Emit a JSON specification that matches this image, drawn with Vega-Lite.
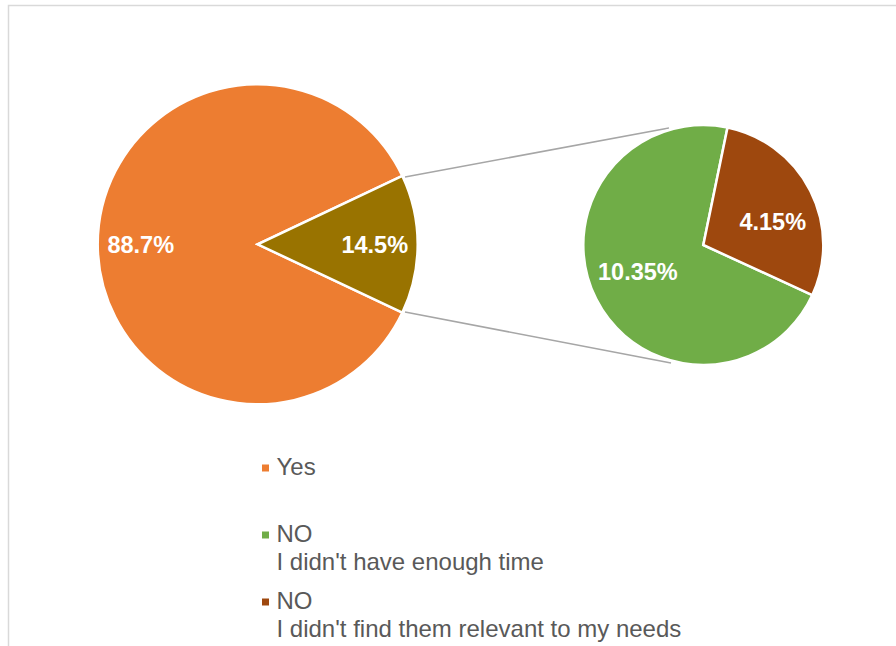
{
  "$schema": "https://vega.github.io/schema/vega-lite/v6.json",
  "width": 896,
  "height": 646,
  "autosize": {"type": "fit", "contains": "padding"},
  "padding": {"left": 8.5, "top": 5.5, "right": -3, "bottom": -3},
  "background": "white",
  "config": {
    "view": {"stroke": "#d9d9d9", "strokeWidth": 1.5},
    "style": {"guide-label": {"lineHeight": 28}}
  },
  "data": {
    "values": [
      {"pie": "main", "category": "Yes", "value": 88.7, "label": "88.7%"},
      {"pie": "main", "category": "NO", "value": 14.5, "label": "14.5%"},
      {"pie": "detail", "category": "NO\nI didn't have enough time", "value": 10.35, "label": "10.35%"},
      {"pie": "detail", "category": "NO\nI didn't find them relevant to my needs", "value": 4.15, "label": "4.15%"}
    ]
  },
  "resolve": {"scale": {"theta": "independent"}},
  "layer": [
    {
      "data": {"values": [{"connector": "upper"}]},
      "mark": {"type": "rule", "color": "#a6a6a6", "strokeWidth": 1.5},
      "encoding": {
        "x": {"datum": 405, "type": "quantitative", "scale": {"domain": [8.5, 899], "nice": false, "zero": false}, "axis": null},
        "y": {"datum": 177, "type": "quantitative", "scale": {"domain": [5.5, 649], "nice": false, "zero": false, "reverse": true}, "axis": null},
        "x2": {"datum": 669},
        "y2": {"datum": 128}
      }
    },
    {
      "data": {"values": [{"connector": "lower"}]},
      "mark": {"type": "rule", "color": "#a6a6a6", "strokeWidth": 1.5},
      "encoding": {
        "x": {"datum": 405, "type": "quantitative", "scale": {"domain": [8.5, 899], "nice": false, "zero": false}, "axis": null},
        "y": {"datum": 312, "type": "quantitative", "scale": {"domain": [5.5, 649], "nice": false, "zero": false, "reverse": true}, "axis": null},
        "x2": {"datum": 671},
        "y2": {"datum": 363}
      }
    },
    {
      "transform": [{"filter": "datum.pie === 'main'"}],
      "mark": {"type": "arc", "outerRadius": 160, "stroke": "white", "strokeWidth": 2.5},
      "encoding": {
        "x": {"datum": 257.7, "type": "quantitative", "scale": {"domain": [8.5, 899], "nice": false, "zero": false}, "axis": null},
        "y": {"datum": 244.3, "type": "quantitative", "scale": {"domain": [5.5, 649], "nice": false, "zero": false, "reverse": true}, "axis": null},
        "theta": {"field": "value", "type": "quantitative", "stack": true, "scale": {"range": [1.1292, 7.4124]}},
        "order": {"field": "category", "sort": "ascending"},
        "color": {
          "field": "category",
          "type": "nominal",
          "scale": {
            "domain": ["Yes", "NO", "NO\nI didn't have enough time", "NO\nI didn't find them relevant to my needs"],
            "range": ["#ED7D31", "#997300", "#70AD47", "#9E480E"]
          },
          "legend": {
            "orient": "none",
            "legendX": 245,
            "legendY": 450.5,
            "direction": "vertical",
            "title": null,
            "values": ["Yes", "NO\nI didn't have enough time", "NO\nI didn't find them relevant to my needs"],
            "symbolType": "square",
            "symbolSize": 49,
            "symbolStrokeWidth": 0,
            "labelFont": "Liberation Sans",
            "labelFontSize": 24,
            "labelColor": "#595959",
            "labelOffset": -1,
            "labelLimit": 0,
            "labelBaseline": "middle",
            "rowPadding": 15,
            "labelExpr": "datum.label == 'Yes' ? ['Yes', ' '] : split(datum.label, '\\n')"
          }
        }
      }
    },
    {
      "transform": [{"filter": "datum.pie === 'main'"}],
      "mark": {"type": "text", "radius": 117, "dy": 2, "fill": "white", "font": "Liberation Sans", "fontWeight": "bold", "fontSize": 23.5},
      "encoding": {
        "x": {"datum": 257.7, "type": "quantitative", "scale": {"domain": [8.5, 899], "nice": false, "zero": false}, "axis": null},
        "y": {"datum": 244.3, "type": "quantitative", "scale": {"domain": [5.5, 649], "nice": false, "zero": false, "reverse": true}, "axis": null},
        "theta": {"field": "value", "type": "quantitative", "stack": true, "scale": {"range": [1.1292, 7.4124]}},
        "order": {"field": "category", "sort": "ascending"},
        "text": {"field": "label", "type": "nominal"}
      }
    },
    {
      "transform": [{"filter": "datum.pie === 'detail'"}],
      "mark": {"type": "arc", "outerRadius": 120, "stroke": "white", "strokeWidth": 2.5},
      "encoding": {
        "x": {"datum": 703.3, "type": "quantitative", "scale": {"domain": [8.5, 899], "nice": false, "zero": false}, "axis": null},
        "y": {"datum": 245, "type": "quantitative", "scale": {"domain": [5.5, 649], "nice": false, "zero": false, "reverse": true}, "axis": null},
        "theta": {"field": "value", "type": "quantitative", "stack": true, "scale": {"range": [0.2032, 6.4864]}},
        "order": {"field": "category", "sort": "ascending"},
        "color": {"field": "category", "type": "nominal"}
      }
    },
    {
      "transform": [{"filter": "datum.pie === 'detail'"}],
      "mark": {"type": "text", "radius": 72, "thetaOffset": 0.11, "dx": 2, "dy": 3, "fill": "white", "font": "Liberation Sans", "fontWeight": "bold", "fontSize": 23.5},
      "encoding": {
        "x": {"datum": 703.3, "type": "quantitative", "scale": {"domain": [8.5, 899], "nice": false, "zero": false}, "axis": null},
        "y": {"datum": 245, "type": "quantitative", "scale": {"domain": [5.5, 649], "nice": false, "zero": false, "reverse": true}, "axis": null},
        "theta": {"field": "value", "type": "quantitative", "stack": true, "scale": {"range": [0.2032, 6.4864]}},
        "order": {"field": "category", "sort": "ascending"},
        "text": {"field": "label", "type": "nominal"}
      }
    }
  ]
}
